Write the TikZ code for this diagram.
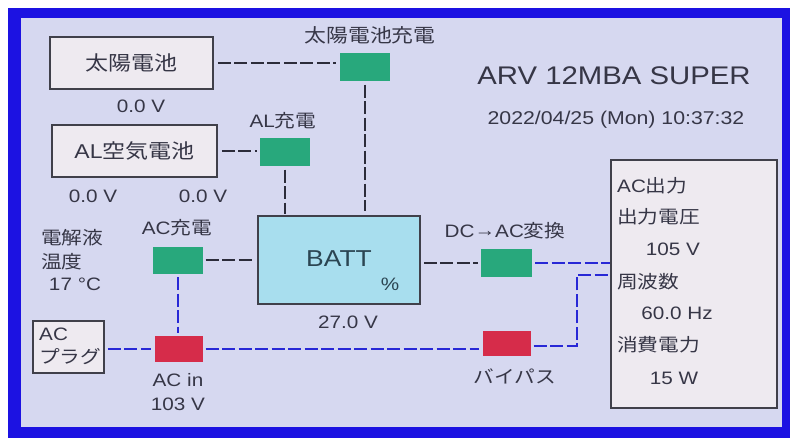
\documentclass[tikz,border=0pt]{standalone}
\usepackage{fontspec}
\setmainfont{Liberation Sans}[FakeStretch=1.15]
\newfontfamily\jpfont{Noto Sans CJK JP}[FakeStretch=1.15]
\newcommand\jpt[1]{{\jpfont #1}}
\newcommand\fsz[1]{\fontsize{#1}{#1}\selectfont}
\definecolor{panel}{RGB}{214,216,240}
\definecolor{frameb}{RGB}{28,18,226}
\definecolor{boxw}{RGB}{238,234,240}
\definecolor{edge}{RGB}{64,64,74}
\definecolor{grn}{RGB}{40,168,124}
\definecolor{redb}{RGB}{214,44,74}
\definecolor{battc}{RGB}{168,222,238}
\definecolor{txt}{RGB}{54,54,70}
\definecolor{dline}{RGB}{44,44,58}
\definecolor{bline}{RGB}{40,40,214}
\begin{document}
\begin{tikzpicture}[x=1pt,y=-1pt,
  lbl/.style={text=txt, inner sep=0pt, font=\fsz{18}},
  gbox/.style={fill=grn, minimum width=50pt, minimum height=28pt, inner sep=0pt},
  rbox/.style={fill=redb, minimum width=48pt, minimum height=26pt, inner sep=0pt},
  wbox/.style={draw=edge, line width=1.8pt, fill=boxw, inner sep=0pt, text=txt},
  dk/.style={draw=dline, line width=2pt, dash pattern=on 13pt off 3.5pt},
  bl/.style={draw=bline, line width=2pt, dash pattern=on 13pt off 3.5pt}]
\useasboundingbox (0,0) rectangle (790,438);
\fill[white] (0,0) rectangle (790,438);
\fill[frameb] (8,8) rectangle (790,438);
\fill[panel] (21,18) rectangle (782,427);

% boxes
\node[wbox, minimum width=163pt, minimum height=52pt, font=\fsz{20}] (solar) at (131.5,63) {\jpt{太陽電池}};
\node[wbox, minimum width=165pt, minimum height=52pt, font=\fsz{20}] (al) at (134.5,151) {AL\jpt{空気電池}};
\node[wbox, minimum width=71pt, minimum height=52pt, line width=1.6pt] (plug) at (68.5,347) {};
\node[draw=edge, line width=1.8pt, fill=battc, minimum width=162pt, minimum height=88pt, inner sep=0pt, text=txt!80!teal, font=\fsz{23}] (batt) at (339,260) {\raisebox{2pt}{BATT}};
\node[wbox, minimum width=166pt, minimum height=248pt] (acout) at (694,284) {};

\node[gbox] (solarchg) at (364.5,67.5) {};
\node[gbox] (alchg) at (285,152.5) {};
\node[gbox, minimum height=27pt] (acchg) at (177.5,260.5) {};
\node[gbox, minimum width=51pt] (dcac) at (506.5,263) {};
\node[rbox] (acin) at (178.5,349) {};
\node[rbox, minimum height=25pt] (bypass) at (506.5,343.5) {};

% connectors
\draw[dk, shorten <=4pt, shorten >=3pt] (solar.east) -- (solar.east -| solarchg.west);
\draw[dk, shorten <=3pt, shorten >=4pt] (solarchg.south) -- (solarchg.south |- batt.north);
\draw[dk, shorten <=4pt, shorten >=3pt] (al.east) -- (al.east -| alchg.west);
\draw[dk, shorten <=3pt, shorten >=1pt] (alchg.south) -- (alchg.south |- batt.north);
\draw[dk, shorten <=3pt, shorten >=3pt] (acchg.east) -- (acchg.east -| batt.west);
\draw[dk, shorten <=3pt, shorten >=3pt] (batt.east |- dcac.west) -- (dcac.west);
\draw[bl, shorten <=3pt] (dcac.east) -- (dcac.east -| acout.west);
\draw[bl, shorten <=3pt, shorten >=3pt] (acchg.south) -- (acchg.south |- acin.north);
\draw[bl, shorten <=3pt, shorten >=3pt] (plug.east |- acin.west) -- (acin.west);
\draw[bl, shorten <=3pt, shorten >=3pt] (acin.east) -- (acin.east -| bypass.west);
\coordinate (bendlo) at (577,346);
\coordinate (bendhi) at (577,275);
\draw[bl, shorten <=3pt] (bypass.east |- bendlo) -- (bendlo) -- (bendhi) -- (bendhi -| acout.west);

% labels
\node[lbl, font=\fsz{19}] (tsolarchg) at (370,35) {\jpt{太陽電池充電}};
\node[lbl] (vsolar) at (141,106) {0.0 V};
\node[lbl] (val1) at (93,196) {0.0 V};
\node[lbl] (val2) at (203,196) {0.0 V};
\node[lbl] (talchg) at (283,121) {AL\jpt{充電}};
\node[lbl, anchor=west] (elec1) at (41,238) {\jpt{電解液}};
\node[lbl, anchor=west] (elec2) at (41,262) {\jpt{温度}};
\node[lbl] (elec3) at (75,284) {17 °C};
\node[lbl] (tacchg) at (177,228) {AC\jpt{充電}};
\node[lbl, anchor=west] (plug1) at (39,334) {AC};
\node[lbl, anchor=west] (plug2) at (39,357) {\jpt{プラグ}};
\node[lbl] (tacin) at (178,380) {AC in};
\node[lbl] (vacin) at (178,404) {103 V};
\node[lbl] (vbatt) at (348,322) {27.0 V};
\node[lbl, text=txt!80!teal] (pct) at (390,284) {\%};
\node[lbl] (tdcac) at (505,231) {DC\raisebox{1.5pt}{→}AC\jpt{変換}};
\node[lbl] (tbypass) at (515,376) {\jpt{バイパス}};
\node[lbl, font=\fsz{25.5}] (title) at (614,76) {ARV 12MBA SUPER};
\node[lbl, font=\fsz{18.5}] (date) at (616,120) {2022/04/25 (Mon) 10:37:32};
\node[lbl, anchor=west] (o1) at (617,186) {AC\jpt{出力}};
\node[lbl, anchor=west] (o2) at (617,217) {\jpt{出力電圧}};
\node[lbl] (o3) at (673,249) {105 V};
\node[lbl, anchor=west] (o4) at (617,282) {\jpt{周波数}};
\node[lbl] (o5) at (677,313) {60.0 Hz};
\node[lbl, anchor=west] (o6) at (617,345) {\jpt{消費電力}};
\node[lbl] (o7) at (674,378) {15 W};
\end{tikzpicture}
\end{document}
